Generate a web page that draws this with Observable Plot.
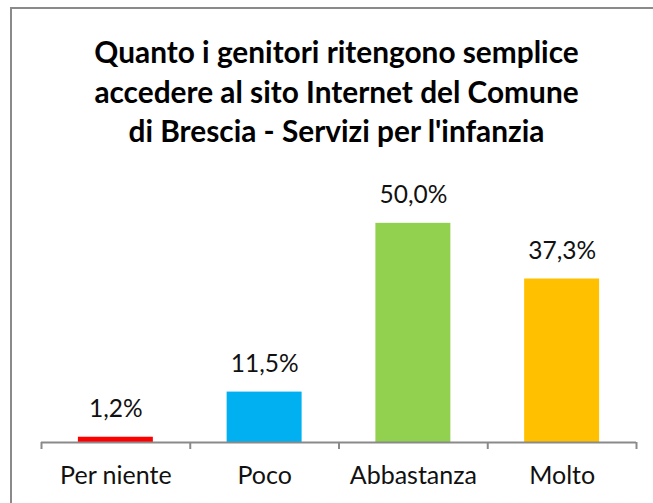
<!DOCTYPE html>
<html>
<head>
<meta charset="utf-8">
<script src="https://cdn.jsdelivr.net/npm/d3@7"></script>
<script src="https://cdn.jsdelivr.net/npm/@observablehq/plot@0.6"></script>
<style>
  html, body { margin: 0; padding: 0; background: #fff; overflow: hidden; }
  #wrap { position: relative; width: 653px; height: 503px; overflow: hidden; background: #fff; }
  #frame { position: absolute; left: 10px; top: 7px; width: 680px; height: 540px; border: 2px solid #8a8a8a; box-sizing: border-box; }
  #title { position: absolute; left: 10px; top: 32px; width: 653px; text-align: center;
           font-family: Lato, "Open Sans", sans-serif; font-weight: bold; font-size: 29.8px; line-height: 39.5px; color: #000; }
  #chart { position: absolute; left: 0; top: 0; }
</style>
</head>
<body>
<div id="wrap">
  <div id="frame"></div>
  <div id="title">Quanto i genitori ritengono semplice<br>accedere al sito Internet del Comune<br>di Brescia - Servizi per l'infanzia</div>
  <div id="chart"></div>
</div>
<script>
const categories = ["Per niente", "Poco", "Abbastanza", "Molto"];
const values = [0.012, 0.115, 0.500, 0.373];
const colors = ["#FF0000", "#00B0F0", "#92D050", "#FFC000"];

const data = categories.map((c, i) => ({i, category: c, value: values[i], color: colors[i]}));
const boundaries = d3.range(categories.length + 1).map(i => i - 0.5);
const fmt = v => (v * 100).toFixed(1).replace(".", ",") + "%";

const chart = Plot.plot({
  width: 653,
  height: 503,
  marginLeft: 41,
  marginRight: 17,
  marginTop: 179,
  marginBottom: 61,
  style: {fontFamily: "Lato, 'Open Sans', sans-serif", fontSize: "25px", color: "#000", background: "transparent"},
  x: {domain: [-0.5, categories.length - 0.5], axis: null},
  y: {domain: [0, 0.6], axis: null},
  marks: [
    Plot.rectY(data, {x1: d => d.i - 0.252, x2: d => d.i + 0.252, y: "value", fill: "color"}),
    Plot.ruleY([0], {stroke: "#8a8a8a", strokeWidth: 2}),
    Plot.ruleX(boundaries, {x: d => d, y1: 0, y2: 0, insetBottom: -7, stroke: "#8a8a8a", strokeWidth: 2}),
    Plot.text(data, {x: "i", y: "value", text: d => fmt(d.value), dy: -20, lineAnchor: "bottom", fill: "#111", fontSize: 24.5}),
    Plot.text(data, {x: "i", y: 0, text: "category", dy: 33, lineAnchor: "middle", fill: "#111", fontSize: 25})
  ]
});
document.getElementById("chart").appendChild(chart);
</script>
</body>
</html>
